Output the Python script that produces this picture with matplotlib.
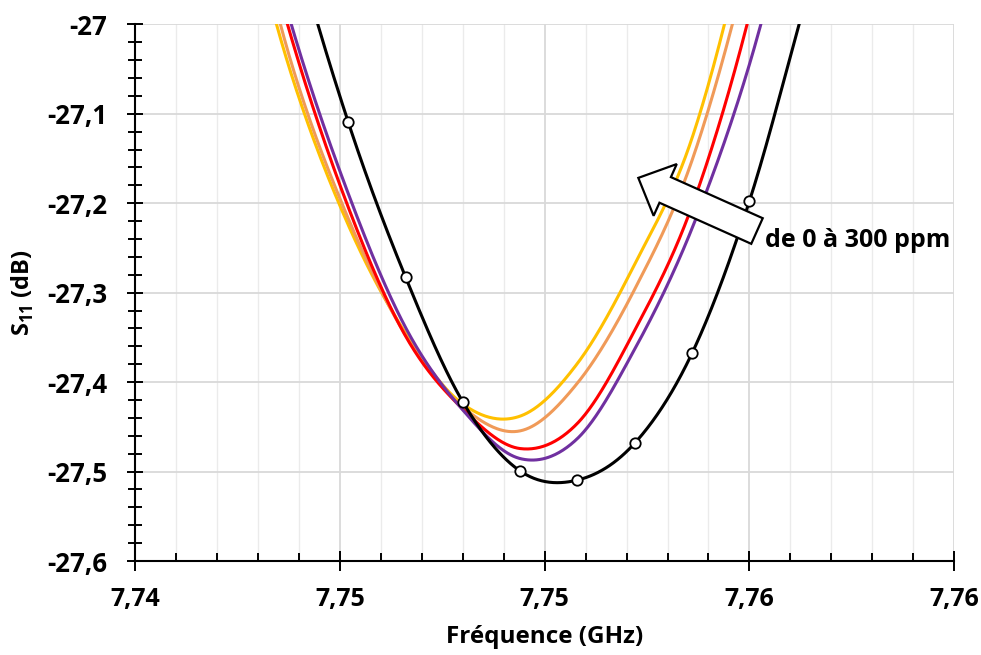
import numpy as np
import matplotlib
matplotlib.use("Agg")
import matplotlib.pyplot as plt
from matplotlib.patches import Polygon
from matplotlib.transforms import IdentityTransform

# ---------------- data ----------------
freq = [7.7424, 7.7438, 7.7452, 7.7466, 7.7480, 7.7494, 7.7508, 7.7522, 7.7536, 7.7550, 7.7564]
s11_ref = [-26.62, -26.892, -27.1095, -27.2827, -27.4223, -27.4994, -27.5095, -27.4682, -27.3676, -27.1978, -26.969]
s11_c1 = [-26.754, -26.999, -27.1894, -27.339, -27.4313, -27.4855, -27.463, -27.363, -27.228, -27.045, -26.80]
s11_c2 = [-26.771, -27.0136, -27.2046, -27.3486, -27.4302, -27.4743, -27.446, -27.342, -27.203, -26.99, -26.70]
s11_c3 = [-26.79, -27.0419, -27.2173, -27.3475, -27.4279, -27.4545, -27.401, -27.296, -27.152, -26.925, -26.63]
s11_c4 = [-26.821, -27.0547, -27.2244, -27.3453, -27.4246, -27.438, -27.379, -27.268, -27.127, -26.885, -26.58]

xticks = [7.74, 7.745, 7.75, 7.755, 7.76]
xticklabels = ["7,74", "7,75", "7,75", "7,76", "7,76"]
yticks = [-27.6, -27.5, -27.4, -27.3, -27.2, -27.1, -27.0]
yticklabels = ["-27,6", "-27,5", "-27,4", "-27,3", "-27,2", "-27,1", "-27"]

annot_text = "de 0 à 300 ppm"

# ---------------- helpers ----------------
def smooth(x, y, n=60):
    P = np.column_stack([x, y]).astype(float)
    P = np.vstack([2 * P[0] - P[1], P, 2 * P[-1] - P[-2]])
    t = np.linspace(0, 1, n)[:, None]
    out = []
    for i in range(1, len(P) - 2):
        p0, p1, p2, p3 = P[i - 1], P[i], P[i + 1], P[i + 2]
        seg = 0.5 * (2 * p1 + (-p0 + p2) * t + (2 * p0 - 5 * p1 + 4 * p2 - p3) * t ** 2
                     + (-p0 + 3 * p1 - 3 * p2 + p3) * t ** 3)
        out.append(seg if i == 1 else seg[1:])
    S = np.vstack(out)
    return S[:, 0], S[:, 1]

plt.rcParams["font.family"] = ["Open Sans", "DejaVu Sans"]
plt.rcParams["font.weight"] = "bold"
plt.rcParams["mathtext.fontset"] = "custom"
plt.rcParams["mathtext.rm"] = "Open Sans"
plt.rcParams["mathtext.bf"] = "Open Sans:bold"

fig = plt.figure(figsize=(9.81, 6.55), dpi=100)
ax = fig.add_axes([0.1381, 0.1435, 0.9725 - 0.1381, 0.9629 - 0.1435])

series = [
    (s11_c4, "#FFC000"),
    (s11_c3, "#F09A58"),
    (s11_c2, "#FF0000"),
    (s11_c1, "#7030A0"),
]
for vals, col in series:
    xs, ys = smooth(freq, vals)
    ax.plot(xs, ys, color=col, lw=2.2, solid_capstyle="round", zorder=3)

xs, ys = smooth(freq, s11_ref)
ax.plot(xs, ys, color="black", lw=2.2, zorder=4)
ax.plot(freq, s11_ref, linestyle="none", marker="o", ms=7.5, mfc="white",
        mec="black", mew=1.3, zorder=5)

ax.set_xlim(7.74, 7.76)
ax.set_ylim(-27.6, -27.0)
ax.set_xticks(xticks)
ax.set_xticklabels(xticklabels)
ax.set_yticks(yticks)
ax.set_yticklabels(yticklabels)
ax.set_xticks(np.arange(7.741, 7.7595, 0.001), minor=True)
ax.set_yticks(np.arange(-27.58, -27.005, 0.02), minor=True)

ax.set_axisbelow(True)
ax.grid(which="major", axis="both", color="#D9D9D9", lw=1.3)
ax.grid(which="minor", axis="x", color="#EBEBEB", lw=1.0)
ax.grid(which="minor", axis="y", visible=False)

for s in ["top", "right"]:
    ax.spines[s].set_visible(False)
for s in ["left", "bottom"]:
    ax.spines[s].set_linewidth(1.5)
    ax.spines[s].set_color("black")

ax.tick_params(axis="x", which="major", direction="inout", length=15, width=1.4,
               pad=11, labelsize=18)
ax.tick_params(axis="x", which="minor", direction="in", length=6, width=1.4)
ax.tick_params(axis="y", which="major", direction="inout", length=12, width=1.4,
               pad=14.5, labelsize=18.5)
ax.tick_params(axis="y", which="minor", direction="inout", length=10, width=1.4)

ax.set_xlabel("Fréquence (GHz)", fontsize=17.5, fontweight="bold")
ax.xaxis.set_label_coords(0.5, -0.12)
ax.set_ylabel(r"$\mathbf{S}_{\mathrm{11}}$ (dB)", fontsize=17, fontweight="bold")
ax.yaxis.set_label_coords(-0.1215, 0.5)

# block arrow annotation (display-space polygon built from data anchors)
tip = (7.752286, -27.1717)
tail = (7.755186, -27.2311)
fig.canvas.draw()
pt = fig.dpi / 72.0
H = ax.transData.transform(tip)
T = ax.transData.transform(tail)
u = (H - T) / np.hypot(*(H - T))
nrm = np.array([-u[1], u[0]])
shaft_hw, head_hw, head_len = 10.1 * pt, 20.4 * pt, 21.2 * pt
B = H - u * head_len
verts = [T + nrm * shaft_hw, B + nrm * shaft_hw, B + nrm * head_hw, H,
         B - nrm * head_hw, B - nrm * shaft_hw, T - nrm * shaft_hw]
poly = Polygon(verts, closed=True, facecolor="white", edgecolor="black", lw=1.6,
               transform=IdentityTransform(), zorder=10)
fig.add_artist(poly)

ax.text(7.755382, -27.2413, annot_text, fontsize=18, fontweight="bold",
        ha="left", va="center", zorder=11)

fig.savefig("out.png", dpi=100)
